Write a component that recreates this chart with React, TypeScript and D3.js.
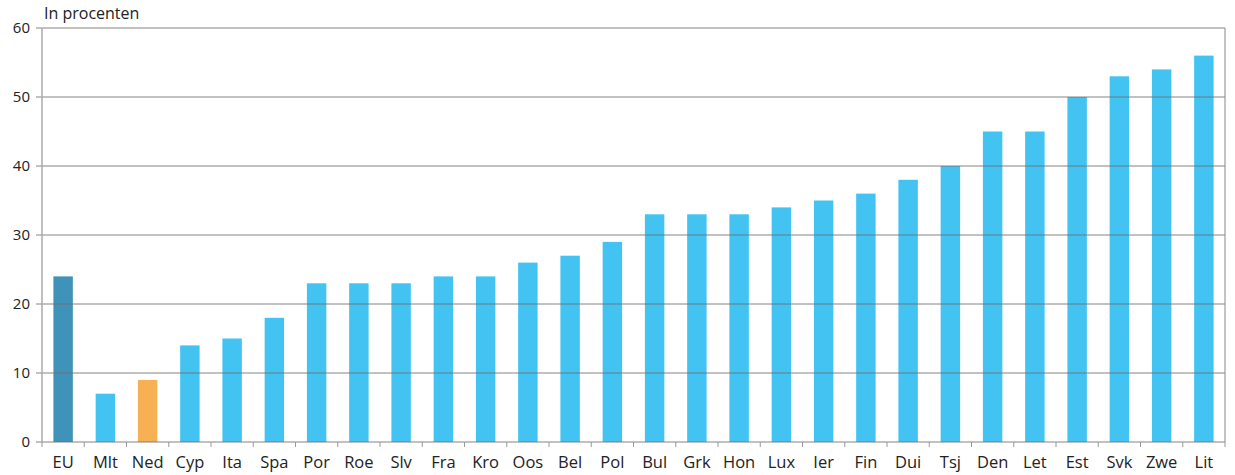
import React from "react";
import * as d3 from "d3";

const categories = ["EU","Mlt","Ned","Cyp","Ita","Spa","Por","Roe","Slv","Fra","Kro","Oos","Bel","Pol","Bul","Grk","Hon","Lux","Ier","Fin","Dui","Tsj","Den","Let","Est","Svk","Zwe","Lit"];
const values = [24,7,9,14,15,18,23,23,23,24,24,26,27,29,33,33,33,34,35,36,38,40,45,45,50,53,54,56];
const yTicks = [0,10,20,30,40,50,60];
const yLabel = "In procenten";

const colorFor = (c: string) => (c === "EU" ? "#4093b8" : c === "Ned" ? "#f8b055" : "#42c3f2");

export default function App() {
  const W = 1235, H = 475;
  const left = 42, right = 1225, top = 28, bottom = 442;
  const x = d3.scaleBand<string>().domain(categories).range([left, right]).paddingInner(0.54).paddingOuter(0.27);
  const xb = d3.scaleBand<string>().domain(categories).range([left, right]);
  const y = d3.scaleLinear().domain([0, 60]).range([bottom, top]);
  const font = "'Open Sans', 'Noto Sans', sans-serif";
  return (
    <svg width={W} height={H} style={{ position: "absolute", left: 0, top: 0 }} fontFamily={font}>
      {categories.map((c, i) => (
        <rect key={c} x={x(c)} y={y(values[i])} width={x.bandwidth()} height={y(0) - y(values[i])} fill={colorFor(c)} />
      ))}
      {yTicks.map((t) => (
        <g key={t}>
          <line x1={36} x2={right} y1={y(t)} y2={y(t)} stroke="#6e6e6e" strokeOpacity={0.85} strokeWidth={1} />
          <text x={30} y={y(t)} dy="0.35em" textAnchor="end" fontSize={15} fill="#222">{t}</text>
        </g>
      ))}
      <line x1={left} x2={left} y1={top} y2={bottom} stroke="#aaa" strokeWidth={1.5} />
      <line x1={right} x2={right} y1={top} y2={bottom} stroke="#888" strokeWidth={1} />
      {categories.map((c) => (
        <line key={"t" + c} x1={xb(c)!} x2={xb(c)!} y1={bottom} y2={bottom + 5} stroke="#999" strokeWidth={1} />
      ))}
      <line x1={right} x2={right} y1={bottom} y2={bottom + 5} stroke="#999" strokeWidth={1} />
      {categories.map((c) => (
        <text key={"l" + c} x={xb(c)! + xb.bandwidth() / 2} y={468} textAnchor="middle" fontSize={16.5} fill="#222">{c}</text>
      ))}
      <text x={44} y={19} fontSize={16} fill="#222">{yLabel}</text>
    </svg>
  );
}
